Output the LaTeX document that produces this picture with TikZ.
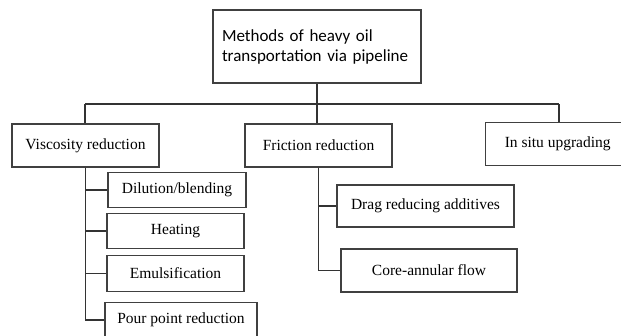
\documentclass[tikz,border=0pt]{standalone}
\usepackage{fontspec}
\setmainfont{Liberation Serif}
\newfontfamily\titlefont{Carlito}
\usetikzlibrary{positioning,calc}

\begin{document}
\begin{tikzpicture}[x=1pt, y=-1pt, thick]
        \tikzset{
            topbox/.style={draw=black!75, fill=white, rectangle, minimum height=73pt, minimum width=208pt, text width=190pt, align=left, font=\titlefont\fontsize{17}{20}\selectfont, line width=1.4pt},
            catbox/.style={draw=black!75, fill=white, rectangle, minimum height=43pt, align=center, font=\fontsize{15.5}{18}\selectfont, line width=1.4pt},
            subbox/.style={draw=black!75, fill=white, rectangle, minimum height=35pt, align=center, font=\fontsize{15.5}{18}\selectfont, line width=1.4pt},
            line/.style={draw=black!80, line width=1.2pt}
        }
        \useasboundingbox (0,0) rectangle (621,335);
        
        % Root
        \node[topbox] (root) at (317, 46.5) {Methods of heavy oil\\transportation via pipeline};
        
        % Main branches
        \node[catbox, minimum width=147pt] (visc) at (85.5, 145.5) {Viscosity reduction};
        \node[catbox, minimum width=147pt] (fric) at (318.5, 145.5) {Friction reduction};
        \node[catbox, minimum width=144pt, anchor=west] (situ) at (485, 144) {In situ upgrading};
        
        % Viscosity reduction methods
        \node[subbox, minimum width=138pt] (dil) at (177, 190) {Dilution/blending};
        \node[subbox, minimum width=137pt] (heat) at (175.5, 231) {Heating};
        \node[subbox, minimum width=137pt, minimum height=36pt] (emul) at (175.5, 273.5) {Emulsification};
        \node[subbox, minimum width=152pt] (pour) at (181, 320) {Pour point reduction};
        
        % Friction reduction methods
        \node[subbox, minimum width=177pt, minimum height=42pt] (drag) at (425.5, 206) {Drag reducing additives};
        \node[subbox, minimum width=176pt, minimum height=43pt] (core) at (429, 270.5) {Core-annular flow};
        
        % Bus from the root
        \coordinate (busL) at (85, 104);
        \coordinate (busR) at (559, 104);
        \path[line] (root.south) -- (root.south |- busL);
        \path[line] (busL) -- (busR);
        \path[line] (busL) -- (busL |- visc.north);
        \path[line] (root.south |- busL) -- (fric.north -| root.south);
        \path[line] (busR) -- (busR |- situ.north);
        
        % Sub-branches
        \path[line] (visc.south) |- (dil.west);
        \path[line] (visc.south) |- (heat.west);
        \path[line] (visc.south) |- (emul.west);
        \path[line] (visc.south) |- (pour.west);
        \path[line] (fric.south) |- (drag.west);
        \path[line] (fric.south) |- (core.west);
        
    \end{tikzpicture}
\end{document}
